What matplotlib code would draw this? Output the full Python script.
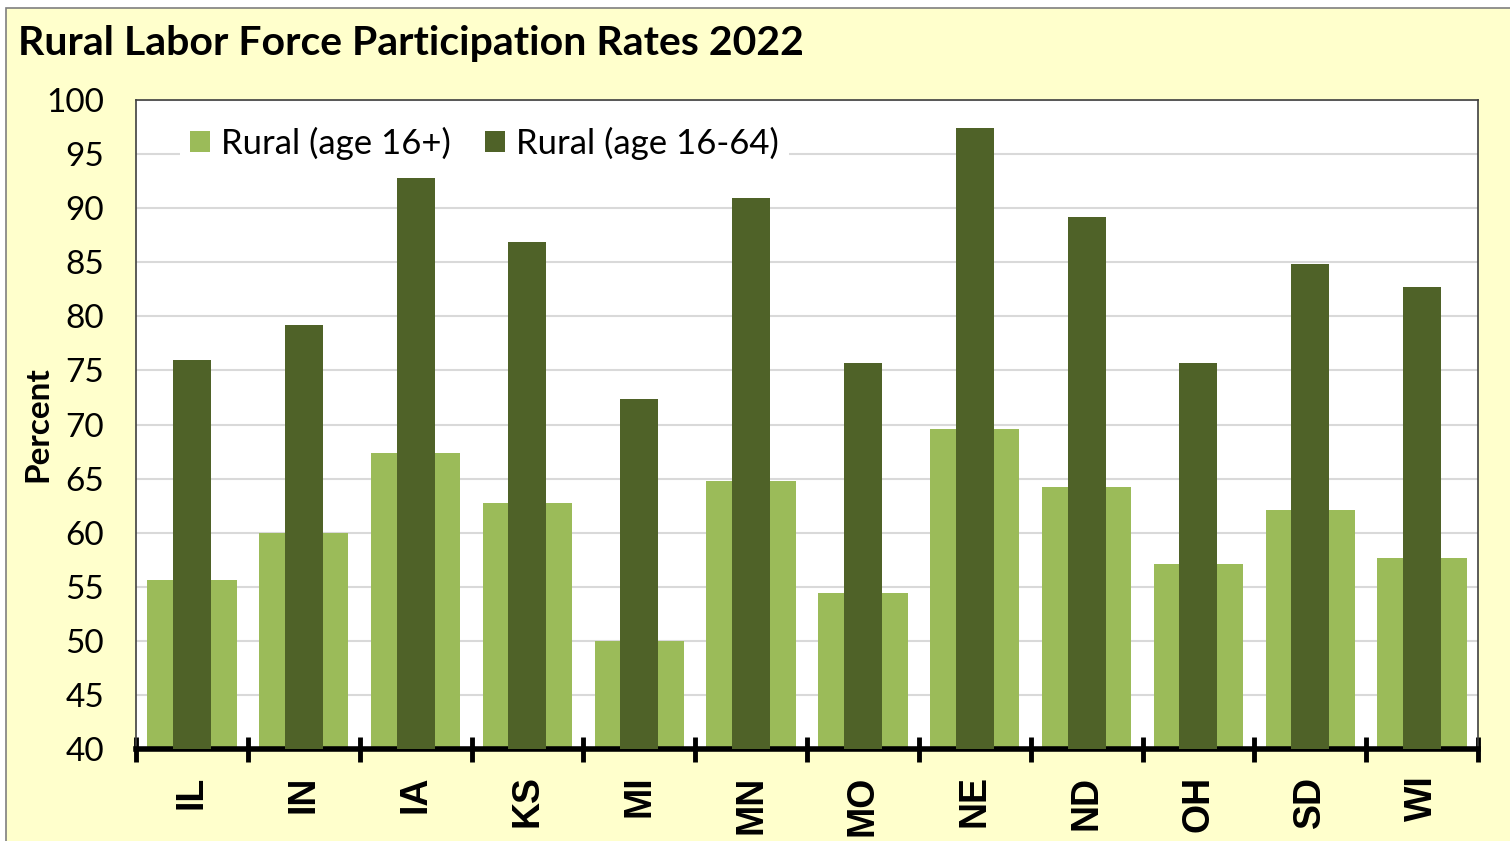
import numpy as np
import matplotlib.pyplot as plt
from matplotlib.patches import Rectangle

states = ['IL', 'IN', 'IA', 'KS', 'MI', 'MN', 'MO', 'NE', 'ND', 'OH', 'SD', 'WI']
rural_16plus = [55.6, 60.0, 67.4, 62.7, 50.0, 64.8, 54.4, 69.6, 64.2, 57.1, 62.1, 57.7]
rural_16_64 = [76.0, 79.2, 92.8, 86.9, 72.4, 90.9, 75.7, 97.4, 89.2, 75.7, 84.8, 82.7]

light = '#9BBB59'
dark = '#4F6228'
bg = '#FFFFCC'

W, H = 1510, 841
fig = plt.figure(figsize=(W / 100, H / 100), dpi=100)
fig.patch.set_facecolor('white')
# chart area: yellow, thin gray border on left/top only (right/bottom run off the image)
fig.patches.append(Rectangle((6 / W, -0.05), 1.1, 1.05 - 8 / H, transform=fig.transFigure,
                             facecolor=bg, edgecolor='#7f7f7f', linewidth=1.2, zorder=-10))

ax = fig.add_axes([136 / W, 1 - 749 / H, (1478 - 136) / W, (749 - 100) / H])
ax.set_facecolor('white')

x = np.arange(len(states))
ax.bar(x, rural_16plus, width=0.8, color=light, label='Rural (age 16+)', zorder=2)
ax.bar(x, rural_16_64, width=0.34, color=dark, label='Rural (age 16-64)', zorder=3)

ax.set_ylim(40, 100)
ax.set_xlim(-0.5, len(states) - 0.5)
ax.set_yticks(np.arange(40, 101, 5))
ax.yaxis.grid(True, color='#d9d9d9', linewidth=1.5, zorder=0)
ax.set_axisbelow(True)

ax.set_xticks(x)
ax.set_xticklabels(states, rotation=90, fontsize=27, fontweight='bold', family='Liberation Sans')
ax.tick_params(axis='x', which='major', length=0, pad=19)
ax.set_xticks(np.arange(-0.5, len(states), 1), minor=True)
ax.tick_params(axis='x', which='minor', direction='inout', length=18, width=3.5, color='black')
ax.tick_params(axis='y', length=0, pad=23, labelsize=24)
for lbl in ax.get_yticklabels():
    lbl.set_family('Lato')

for side in ['left', 'top', 'right']:
    ax.spines[side].set_color('#404040')
    ax.spines[side].set_linewidth(1.2)
ax.spines['bottom'].set_linewidth(4)
ax.spines['bottom'].set_color('black')

ax.set_ylabel('Percent', fontsize=24, fontweight='bold', family='Lato')
ax.yaxis.label.set_va('center')
ax.yaxis.set_label_coords((38 - 136) / 1342, (749 - 424) / 649)

leg = ax.legend(loc='upper left', bbox_to_anchor=(0.0325, 0.975), ncol=2, frameon=True,
                prop={'family': 'Lato', 'size': 25}, handlelength=0.58,
                handleheight=0.58, handletextpad=0.3, columnspacing=1.0,
                borderpad=0.3, borderaxespad=0)
leg.get_frame().set_facecolor('white')
leg.get_frame().set_edgecolor('none')
leg.get_frame().set_alpha(1)

fig.text(18 / W, 1 - 44 / H, 'Rural Labor Force Participation Rates 2022',
         fontsize=29.5, fontweight='bold', family='Lato', va='center', ha='left')

fig.savefig('out.png', dpi=100, facecolor=fig.get_facecolor())
